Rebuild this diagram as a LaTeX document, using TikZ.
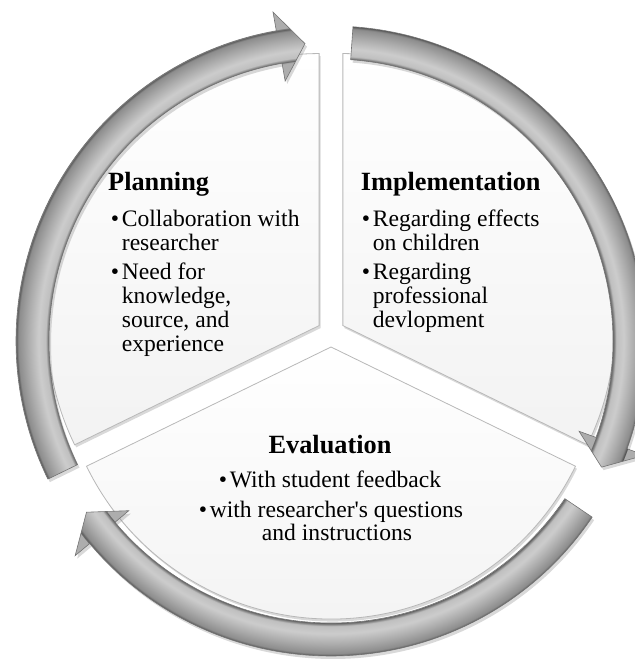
\documentclass[tikz,border=0pt]{standalone}
\usepackage{fontspec}
\setmainfont{Liberation Serif}
\usetikzlibrary{calc,shadows}

% grey band of the cycle arrows, light in the middle, dark at both edges
\pgfdeclareradialshading{ringshade}{\pgfpoint{0bp}{0bp}}{%
  color(0bp)=(black!32); color(21.05bp)=(black!32);
  color(21.11bp)=(black!62); color(21.35bp)=(black!25);
  color(21.9bp)=(black!20); color(22.7bp)=(black!33);
  color(23.4bp)=(black!45); color(23.58bp)=(black!68);
  color(23.64bp)=(black!32); color(50bp)=(black!32)}

\begin{document}
\begin{tikzpicture}[
    x=1pt, y=1pt,
    sector/.style={draw=black!28, line width=0.8pt, top color=white, bottom color=black!5,
        drop shadow={opacity=0.3, shadow xshift=1.5pt, shadow yshift=-2.5pt}},
    band/.style={draw=black!55, line width=0.6pt,
        drop shadow={opacity=0.3, shadow xshift=2pt, shadow yshift=-3pt},
        path picture={\shade[shading=ringshade] (c) circle (334);}},
    title/.style={font=\fontsize{26.3}{30}\selectfont\bfseries, anchor=base west, inner sep=0pt},
    item/.style={font=\fontsize{23.6}{28}\selectfont, anchor=base west, inner sep=0pt},
    citem/.style={font=\fontsize{23.6}{28}\selectfont, anchor=base, inner sep=0pt}
]
\useasboundingbox (0,0) rectangle (634,663);

\coordinate (c) at (331,322); % centre of the ring
\coordinate (s) at (331,330); % centre of the pie

% Pie pieces, pulled apart a little
\path[sector] ($(s)+(148:14)$) -- ++(90:272) arc[start angle=90, end angle=206, radius=272] -- cycle;
\path[sector] ($(s)+(32:14)$) -- ++(-26:272) arc[start angle=-26, end angle=90, radius=272] -- cycle;
\path[sector] ($(s)+(270:14)$) -- ++(206:272) arc[start angle=206, end angle=334, radius=272] -- cycle;

% Cycle arrows (tail / head base / tip angles)
\foreach \a/\b/\t in {206/100/95, 86/-20/-25, -34/-140/-145}
  \path[band] ($(c)+(\a:315)$) arc[start angle=\a, end angle=\b, radius=315]
      -- ($(c)+(\b:334)$) -- ($(c)+(\t:298.5)$) -- ($(c)+(\b:264)$)
      -- ($(c)+(\b:282)$) arc[start angle=\b, end angle=\a, radius=282] -- cycle;

% Planning
\node[title] (plan) at (108,472.3) {Planning};
\node[item] (plan1) at (121.7,436.3) {\llap{\textbullet\hspace{2.7pt}}Collaboration with};
\node[item] (plan2) at (121.7,412.3) {researcher};
\node[item] (plan3) at (121.7,383.7) {\llap{\textbullet\hspace{2.7pt}}Need for};
\node[item] (plan4) at (121.7,359.7) {knowledge,};
\node[item] (plan5) at (121.7,335.7) {source, and};
\node[item] (plan6) at (121.7,311.7) {experience};

% Implementation
\node[title] (impl) at (360.7,472.3) {Implementation};
\node[item] (impl1) at (372.7,436.3) {\llap{\textbullet\hspace{2.7pt}}Regarding effects};
\node[item] (impl2) at (372.7,412.3) {on children};
\node[item] (impl3) at (372.7,383.7) {\llap{\textbullet\hspace{2.7pt}}Regarding};
\node[item] (impl4) at (372.7,359.7) {professional};
\node[item] (impl5) at (372.7,335.7) {devlopment};

% Evaluation
\node[title, anchor=base] (eval) at (330,209.7) {Evaluation};
\node[citem] (eval1) at (330,175) {\textbullet\hspace{2.7pt}With student feedback};
\node[citem] (eval2) at (331,145) {\textbullet\hspace{2.7pt}with researcher\textquotesingle s questions};
\node[citem] (eval3) at (337,122) {and instructions};

\end{tikzpicture}
\end{document}
